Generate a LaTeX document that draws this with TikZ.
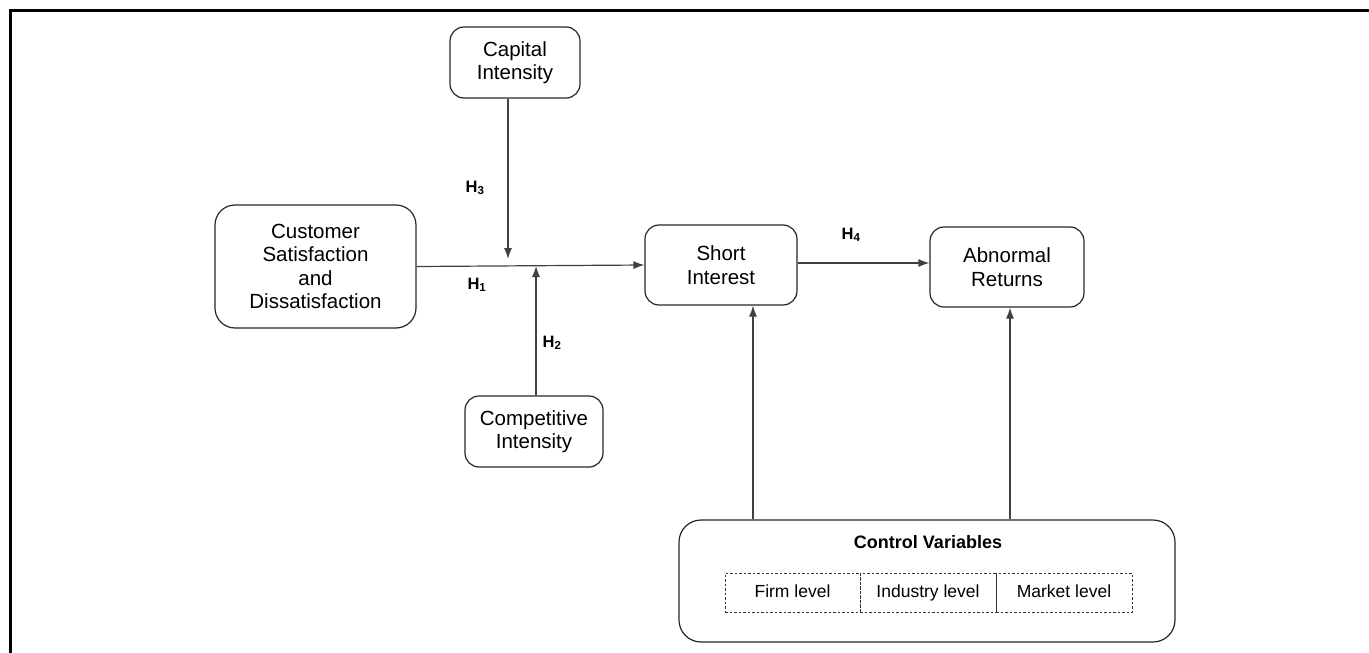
\documentclass[tikz,border=0pt]{standalone}
\usepackage{fontspec}
\setmainfont{Liberation Sans}
\usetikzlibrary{arrows.meta}
\begin{document}
\begin{tikzpicture}[x=1pt,y=-1pt,
  box/.style={draw=black!85, line width=1.2pt, rounded corners=14pt, align=center,
    inner sep=0pt, font=\fontsize{20.5}{23.5}\selectfont},
  dbox/.style={draw=black!80, line width=0.9pt, dashed, dash pattern=on 2.5pt off 2pt,
    inner sep=0pt, minimum height=39pt, text height=13pt, text depth=4pt,
    font=\fontsize{17.5}{20}\selectfont},
  conn/.style={draw=black!75, line width=1.2pt, -{Latex[length=11pt,width=8pt]}},
  hlab/.style={font=\fontsize{16.5}{18}\selectfont\bfseries, inner sep=0pt}
]
\useasboundingbox (0,0) rectangle (1369,653);
% frame (top and left edges)
\draw[line width=2.4pt] (10.5,653) -- (10.5,10.5) -- (1369,10.5);

\node[box, minimum width=130pt, minimum height=71pt] (cap) at (515,62.5) {Capital\\Intensity};
\node[box, rounded corners=20pt, minimum width=201pt, minimum height=123pt] (cust) at (315.5,266.5) {Customer\\Satisfaction\\and\\Dissatisfaction};
\node[box, minimum width=152pt, minimum height=80pt] (si) at (721,265) {Short\\Interest};
\node[box, minimum width=154pt, minimum height=80pt] (ar) at (1007,267) {Abnormal\\Returns};
\node[box, minimum width=138pt, minimum height=71pt] (comp) at (534,431.5) {Competitive\\Intensity};
\node[box, rounded corners=22pt, minimum width=496pt, minimum height=122pt] (ctrl) at (927,581) {};
\node[font=\fontsize{18}{20}\selectfont\bfseries, inner sep=0pt] (ctrlt) at (928,542) {Control Variables};
\node[dbox, minimum width=135pt] (firm) at (792.5,592.5) {Firm level};
\node[dbox, minimum width=136pt] (ind) at (928,592.5) {Industry level};
\node[dbox, minimum width=136pt] (mkt) at (1064,592.5) {Market level};

% connectors
\draw[conn] (cust.east) -- (si.west);
\coordinate (capend) at (508,259);
\coordinate (compend) at (536,266);
\draw[conn] (cap.south -| capend) -- (capend);
\draw[conn] (comp.north -| compend) -- (compend);
\draw[conn] (si.east |- 0,263) -- (ar.west |- 0,263);
\draw[conn] (ctrl.north -| 753,0) -- (si.south -| 753,0);
\draw[conn] (ctrl.north -| 1010,0) -- (ar.south -| 1010,0);

% labels
\node[hlab] (h3) at (475,188) {H\textsubscript{3}};
\node[hlab] (h1) at (477,285) {H\textsubscript{1}};
\node[hlab] (h2) at (552,343) {H\textsubscript{2}};
\node[hlab] (h4) at (851,235) {H\textsubscript{4}};
\end{tikzpicture}
\end{document}
